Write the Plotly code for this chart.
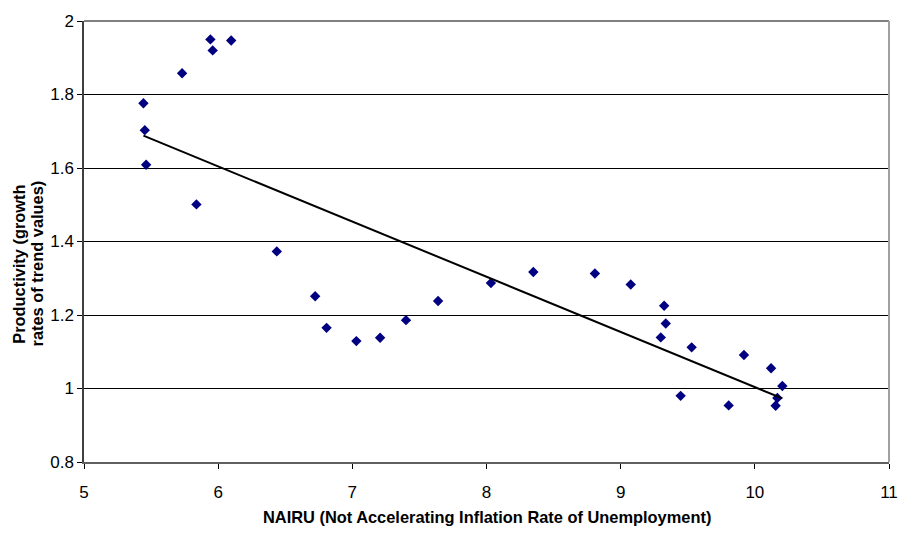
import numpy as np
import plotly.graph_objects as go

# NAIRU (x) vs productivity growth of trend values (y)
nairu = [5.443, 5.453, 5.463, 5.731, 5.838, 5.942, 5.959, 6.097, 6.437, 6.723,
         6.808, 7.030, 7.207, 7.400, 7.639, 8.033, 8.349, 8.808, 9.075, 9.324,
         9.336, 9.299, 9.529, 9.447, 9.919, 9.805, 10.121, 10.205, 10.168, 10.155]
productivity = [1.776, 1.703, 1.609, 1.858, 1.501, 1.950, 1.920, 1.947, 1.373, 1.251,
                1.165, 1.129, 1.138, 1.186, 1.238, 1.287, 1.317, 1.313, 1.283, 1.225,
                1.177, 1.139, 1.112, 0.980, 1.091, 0.954, 1.055, 1.007, 0.974, 0.953]

x_ticks = [5, 6, 7, 8, 9, 10, 11]
y_ticks = [0.8, 1.0, 1.2, 1.4, 1.6, 1.8, 2.0]
y_tick_text = ["0.8", "1", "1.2", "1.4", "1.6", "1.8", "2"]

x_title = "NAIRU (Not Accelerating Inflation Rate of Unemployment)"
y_title_lines = ["Productivity (growth", "rates of trend values)"]

# Least-squares linear trend across the observed NAIRU range
slope, intercept = np.polyfit(nairu, productivity, 1)
trend_x = [min(nairu), max(nairu)]
trend_y = [slope * v + intercept for v in trend_x]

fig = go.Figure()
fig.add_trace(go.Scatter(
    x=nairu, y=productivity, mode="markers",
    marker=dict(symbol="diamond", size=8, color="#000080",
                line=dict(width=0)),
    showlegend=False, hoverinfo="x+y",
))
fig.add_trace(go.Scatter(
    x=trend_x, y=trend_y, mode="lines",
    line=dict(color="#000000", width=2),
    showlegend=False, hoverinfo="skip",
))

tick_font = dict(family="Liberation Sans, Arial, sans-serif", size=17, color="#000000")
title_font = dict(family="Liberation Sans, Arial, sans-serif", size=16.4, color="#000000")

fig.update_layout(
    width=910, height=537,
    margin=dict(l=84, r=15, t=17, b=75),
    paper_bgcolor="#ffffff", plot_bgcolor="#ffffff",
    font=tick_font,
    xaxis=dict(
        range=[5, 11], tickvals=x_ticks, ticktext=[str(v) for v in x_ticks],
        ticks="outside", ticklen=5, tickcolor="#000000", tickwidth=1,
        tickfont=tick_font, ticklabelstandoff=9, ticklabeloverflow="allow",
        showgrid=False, zeroline=False,
        showline=True, linecolor="#606060", linewidth=2,
    ),
    yaxis=dict(
        range=[0.8, 2.0], tickvals=y_ticks, ticktext=y_tick_text,
        ticks="outside", ticklen=5, tickcolor="#000000", tickwidth=1,
        tickfont=tick_font, showgrid=True, gridcolor="#000000", gridwidth=1,
        zeroline=False, showline=True, linecolor="#404040", linewidth=1.5,
    ),
    annotations=[
        dict(text="<b>%s</b>" % x_title, xref="paper", yref="paper",
             x=0.5, y=-0.124, xanchor="center", yanchor="middle",
             showarrow=False, font=title_font),
        dict(text="<b>%s</b>" % y_title_lines[0], xref="paper", yref="paper",
             x=-0.081, y=0.449, xanchor="center", yanchor="middle",
             textangle=-90, showarrow=False, font=title_font),
        dict(text="<b>%s</b>" % y_title_lines[1], xref="paper", yref="paper",
             x=-0.059, y=0.449, xanchor="center", yanchor="middle",
             textangle=-90, showarrow=False, font=title_font),
    ],
    shapes=[
        # gray frame on the top and right of the plotting area
        dict(type="line", xref="paper", yref="paper", x0=0, x1=1, y0=1, y1=1,
             line=dict(color="#808080", width=2)),
        dict(type="line", xref="paper", yref="paper", x0=1, x1=1, y0=0, y1=1,
             line=dict(color="#a0a0a0", width=2)),
    ],
)

fig.write_html("out.html")
